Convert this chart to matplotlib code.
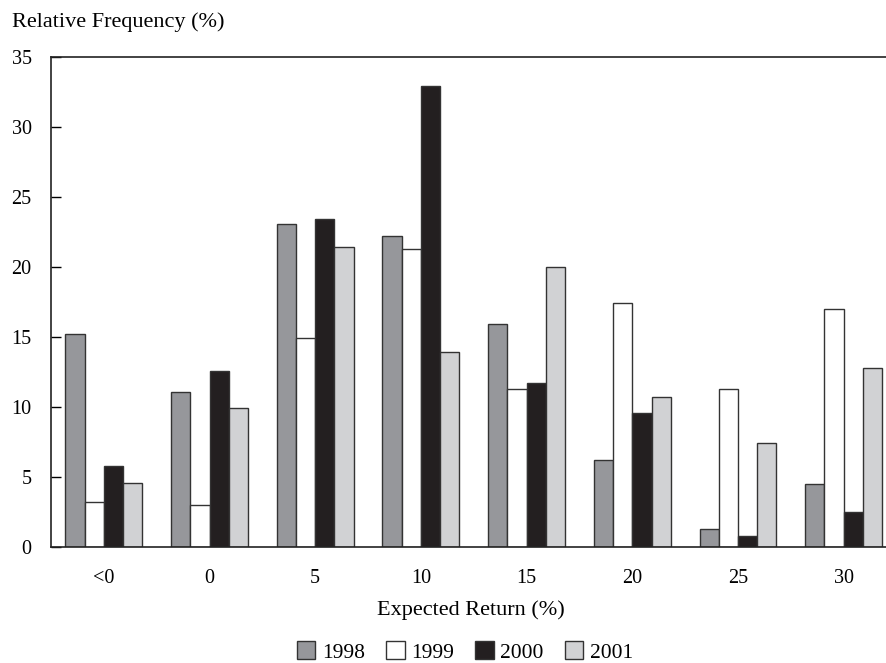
import numpy as np
import matplotlib
matplotlib.use("Agg")
import matplotlib.pyplot as plt

plt.rcParams['font.family'] = ['Liberation Serif', 'DejaVu Serif']

categories = ['<0', '0', '5', '10', '15', '20', '25', '30']
years = ['1998', '1999', '2000', '2001']
v1998 = [15.2, 11.1, 23.1, 22.2, 15.9, 6.2, 1.3, 4.5]
v1999 = [3.2, 3.0, 14.9, 21.3, 11.3, 17.4, 11.3, 17.0]
v2000 = [5.8, 12.6, 23.4, 32.9, 11.7, 9.6, 0.8, 2.5]
v2001 = [4.6, 9.9, 21.4, 13.9, 20.0, 10.7, 7.4, 12.8]
series = [v1998, v1999, v2000, v2001]
colors = ['#96979b', '#ffffff', '#231f20', '#d1d2d4']

fig = plt.figure(figsize=(8.86, 6.63), dpi=100)
ax = fig.add_axes([51 / 886, 116 / 663, 835 / 886, 490 / 663])

x = np.arange(len(categories))
w = 0.182
for i, vals in enumerate(series):
    ax.bar(x + (i - 1.5) * w, vals, w, color=colors[i], edgecolor='#333333',
           linewidth=1.0, label=years[i])

ax.set_xlim(-0.5, 7.4)
ax.set_ylim(0, 35)
ax.set_yticks(range(0, 36, 5))
ax.set_xticks(x)
ax.set_xticklabels(categories)
ax.tick_params(axis='y', direction='in', length=7, width=1, pad=14, labelsize=14.5)
ax.tick_params(axis='x', length=0, pad=16, labelsize=14.5)
ax.spines['right'].set_visible(False)
for s in ['left', 'top', 'bottom']:
    ax.spines[s].set_linewidth(1.2)
    ax.spines[s].set_color('#222222')

fig.text(471 / 886, 1 - 610 / 663, 'Expected Return (%)', fontsize=16,
         ha='center', va='center')
fig.text(12 / 886, 1 - 22 / 663, 'Relative Frequency (%)', fontsize=16,
         ha='left', va='center')

fig.legend(loc='center', bbox_to_anchor=(465 / 886, 1 - 652 / 663), ncol=4,
           frameon=False, fontsize=15.5, handlelength=0.85, handleheight=0.85,
           handletextpad=0.3, columnspacing=1.0, borderpad=0)

fig.savefig('out.png', dpi=100)
